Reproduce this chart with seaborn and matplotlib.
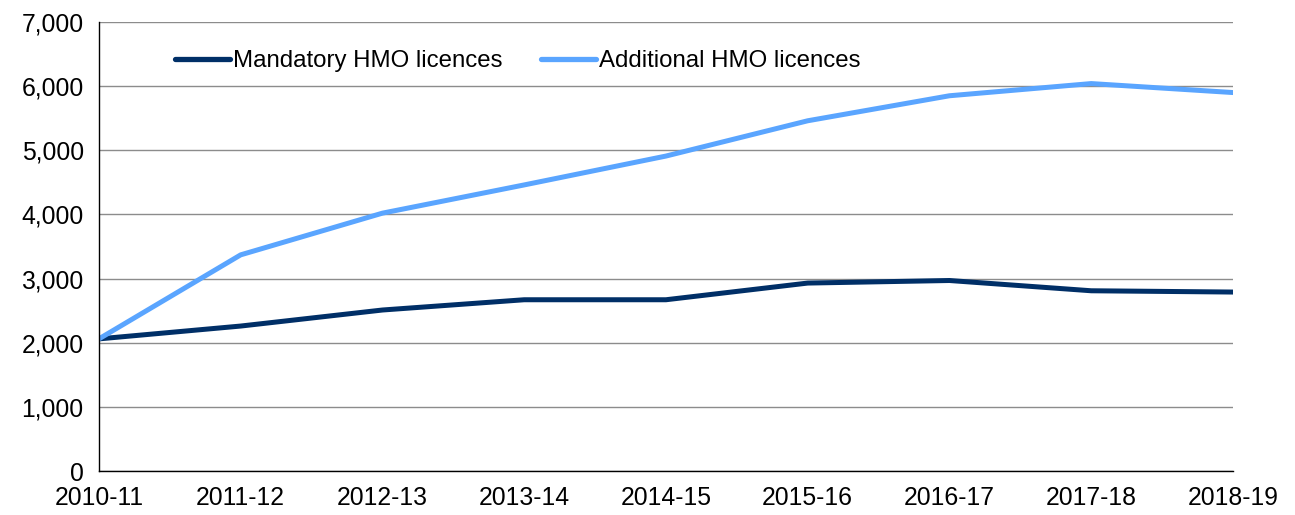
import pandas as pd
import seaborn as sns
import matplotlib.pyplot as plt
from matplotlib.ticker import FuncFormatter

# Data
years = ["2010-11", "2011-12", "2012-13", "2013-14", "2014-15",
         "2015-16", "2016-17", "2017-18", "2018-19"]
mandatory = [2060, 2260, 2510, 2670, 2670, 2930, 2970, 2810, 2790]
additional = [2060, 3370, 4020, 4460, 4910, 5460, 5850, 6040, 5900]

series_names = ["Mandatory HMO licences", "Additional HMO licences"]
colors = ["#002F67", "#5AA5FF"]

df = pd.DataFrame({
    "year": years * 2,
    "pos": list(range(len(years))) * 2,
    "value": mandatory + additional,
    "series": [series_names[0]] * len(years) + [series_names[1]] * len(years),
})

sns.set_style("white")
plt.rcParams["font.family"] = ["Liberation Sans", "DejaVu Sans"]
plt.rcParams["text.color"] = "black"

fig = plt.figure(figsize=(12.95, 5.15), dpi=100)
ax = fig.add_axes([0.0764, 0.0854, 0.8757, 0.8719])

sns.lineplot(data=df, x="pos", y="value", hue="series", palette=colors,
             linewidth=3.6, ax=ax, legend=True)

ax.set_xlim(0, len(years) - 1)
ax.set_ylim(0, 7000)
ax.set_xticks(range(len(years)))
ax.set_xticklabels(years)
ax.set_yticks(range(0, 7001, 1000))
ax.yaxis.set_major_formatter(FuncFormatter(lambda v, p: f"{int(v):,}"))
ax.set_xlabel("")
ax.set_ylabel("")

ax.grid(axis="y", color="#8c8c8c", linewidth=1)
ax.set_axisbelow(True)
for side in ["top", "right"]:
    ax.spines[side].set_visible(False)
for side in ["left", "bottom"]:
    ax.spines[side].set_color("black")
    ax.spines[side].set_linewidth(1)

ax.tick_params(axis="both", which="major", direction="out", length=6,
               width=1, color="black", labelsize=17.8, labelcolor="black")
ax.tick_params(axis="x", pad=5)
ax.tick_params(axis="y", pad=5)

leg = ax.legend(loc="upper left", bbox_to_anchor=(0.048, 0.985), ncol=2,
                frameon=False, fontsize=17.3, handlelength=2.3,
                handletextpad=0.12, columnspacing=1.6)
for line in leg.get_lines():
    line.set_linewidth(3.8)
for txt in leg.get_texts():
    txt.set_color("black")

fig.savefig("out.png", dpi=100)
